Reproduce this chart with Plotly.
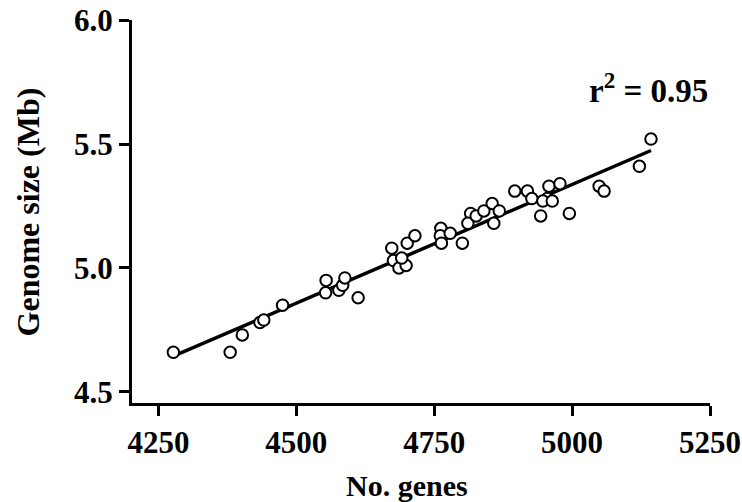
import numpy as np
import plotly.graph_objects as go

# Number of predicted genes and genome size (Mb) per strain
genes = [4277, 4380, 4402, 4434, 4441, 4475, 4554, 4553, 4577, 4584,
         4588, 4612, 4673, 4676, 4686, 4699, 4691, 4701, 4715, 4762,
         4761, 4779, 4763, 4801, 4816, 4811, 4826, 4840, 4855, 4868,
         4858, 4896, 4919, 4927, 4943, 4958, 4955, 4947, 4964, 4978,
         4995, 5049, 5058, 5122, 5143]
genome_size = [4.66, 4.66, 4.73, 4.78, 4.79, 4.85, 4.95, 4.90, 4.91, 4.93,
               4.96, 4.88, 5.08, 5.03, 5.00, 5.01, 5.04, 5.10, 5.13, 5.16,
               5.13, 5.14, 5.10, 5.10, 5.22, 5.18, 5.21, 5.23, 5.26, 5.23,
               5.18, 5.31, 5.31, 5.28, 5.21, 5.33, 5.28, 5.27, 5.27, 5.34,
               5.22, 5.33, 5.31, 5.41, 5.52]

x_ticks = [4250, 4500, 4750, 5000, 5250]
y_ticks = [4.5, 5.0, 5.5, 6.0]
r2_label = "r<sup>2</sup> = 0.95"

# Least-squares fit drawn over the data range
gx = np.array(genes, dtype=float)
gy = np.array(genome_size, dtype=float)
slope, intercept = np.polyfit(gx, gy, 1)
fit_x = np.array([gx.min(), gx.max()])
fit_y = slope * fit_x + intercept

FONT = "Liberation Serif"

fig = go.Figure()
fig.add_trace(go.Scatter(
    x=fit_x, y=fit_y, mode="lines",
    line=dict(color="black", width=3.5),
    hoverinfo="skip", showlegend=False,
))
fig.add_trace(go.Scatter(
    x=genes, y=genome_size, mode="markers",
    marker=dict(symbol="circle", size=11.5, color="white",
                line=dict(color="black", width=2)),
    showlegend=False,
))

axis_common = dict(
    showline=True, linecolor="black", linewidth=3,
    ticks="outside", ticklen=10, tickwidth=3, tickcolor="black",
    showgrid=False, zeroline=False, automargin=False,
    tickfont=dict(family=FONT, size=31, color="black", weight="bold"),
)

fig.update_xaxes(
    range=[4202, 5250], tickvals=x_ticks,
    ticktext=[str(v) for v in x_ticks], **axis_common,
)
fig.update_yaxes(
    range=[4.4556, 6.0], tickvals=y_ticks,
    ticktext=[f"{v:.1f}" for v in y_ticks], **axis_common,
)

fig.add_annotation(
    text="No. genes", xref="paper", yref="paper",
    x=0.476, y=-0.215, xanchor="center", yanchor="middle", showarrow=False,
    font=dict(family=FONT, size=30, color="black", weight="bold"),
)
fig.add_annotation(
    text="Genome size (Mb)", xref="paper", yref="paper",
    x=-0.18, y=0.5, xanchor="center", yanchor="middle", showarrow=False,
    textangle=-90,
    font=dict(family=FONT, size=32, color="black", weight="bold"),
)
fig.add_annotation(
    text=r2_label, xref="paper", yref="paper",
    x=1.0, y=0.822, xanchor="right", yanchor="middle", showarrow=False,
    font=dict(family=FONT, size=33, color="black", weight="bold"),
)

fig.update_layout(
    width=742, height=502,
    margin=dict(l=132, r=32, t=20, b=99),
    paper_bgcolor="white", plot_bgcolor="white",
)

fig.write_html("out.html")
